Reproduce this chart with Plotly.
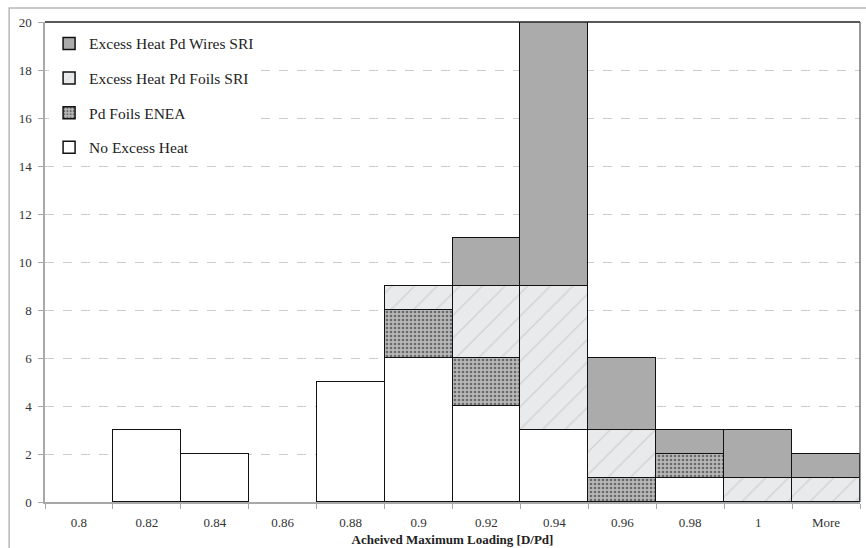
import plotly.graph_objects as go

categories = ["0.8", "0.82", "0.84", "0.86", "0.88", "0.9", "0.92", "0.94", "0.96", "0.98", "1", "More"]
no_excess_heat = [0, 3, 2, 0, 5, 6, 4, 3, 0, 1, 0, 0]
pd_foils_enea = [0, 0, 0, 0, 0, 2, 2, 0, 1, 1, 0, 0]
excess_pd_foils_sri = [0, 0, 0, 0, 0, 1, 3, 6, 2, 0, 1, 1]
excess_pd_wires_sri = [0, 0, 0, 0, 0, 0, 2, 11, 3, 1, 2, 1]
y_ticks = [0, 2, 4, 6, 8, 10, 12, 14, 16, 18, 20]

FONT = "Liberation Serif, Times New Roman, serif"


def nz(vals):
    return [v if v else None for v in vals]


fig = go.Figure()
line = dict(color="#111111", width=1.5)

fig.add_trace(go.Bar(
    x=categories, y=nz(no_excess_heat), name="No Excess Heat",
    marker=dict(color="white", line=line), legendrank=4, legendgroup="g4"))
fig.add_trace(go.Bar(
    x=categories, y=nz(pd_foils_enea), name="Pd Foils ENEA",
    marker=dict(color="#a0a0a0", line=line,
                pattern=dict(shape=".", fgcolor="#6a6a6a", bgcolor="#b8b8b8",
                             size=4, solidity=0.35, fillmode="replace")),
    legendrank=3, legendgroup="g3"))
fig.add_trace(go.Bar(
    x=categories, y=nz(excess_pd_foils_sri), name="Excess Heat Pd Foils SRI",
    marker=dict(color="#e6e8ea", line=line,
                pattern=dict(shape="/", fgcolor="#cfd1d3", bgcolor="#e8eaec",
                             size=16, solidity=0.08, fillmode="replace")),
    legendrank=2, legendgroup="g2"))
fig.add_trace(go.Bar(
    x=categories, y=nz(excess_pd_wires_sri), name="Excess Heat Pd Wires SRI",
    marker=dict(color="#ababab", line=line), legendrank=1, legendgroup="g1"))

fig.update_layout(
    width=866, height=548,
    barmode="stack", bargap=0,
    paper_bgcolor="white", plot_bgcolor="white",
    margin=dict(l=45, r=6, t=22, b=46),
    font=dict(family=FONT, color="#222222", size=13),
    showlegend=True,
    legend=dict(x=0.005, y=0.99, xanchor="left", yanchor="top",
                traceorder="grouped", tracegroupgap=11.5,
                font=dict(family=FONT, size=15.5, color="#222222"),
                bgcolor="white", itemwidth=30),
    xaxis=dict(type="category", range=[-0.5, 11.5], automargin=False,
               showline=True, linecolor="#a8a8a8", linewidth=1.5,
               mirror=False, ticks="outside", tickson="boundaries",
               ticklen=5, tickcolor="#a8a8a8", ticklabelstandoff=8,
               tickfont=dict(family=FONT, size=13, color="#333333"),
               title=dict(text="<b>Acheived Maximum Loading [D/Pd]</b>",
                          font=dict(family=FONT, size=13, color="#222222"),
                          standoff=6),
               showgrid=False),
    yaxis=dict(range=[0, 20], tickvals=y_ticks, automargin=False,
               showline=True, linecolor="#a8a8a8", linewidth=1.5,
               ticks="outside", ticklen=5, tickcolor="#a8a8a8",
               ticklabelstandoff=4,
               tickfont=dict(family=FONT, size=13, color="#333333"),
               showgrid=True, gridcolor="#cccccc", griddash="dash", gridwidth=1,
               zeroline=False),
)

# plot frame top/right
fig.add_shape(type="line", xref="paper", yref="paper", x0=0, x1=1, y0=1, y1=1,
              line=dict(color="#222222", width=1.5))
fig.add_shape(type="line", xref="paper", yref="paper", x0=1, x1=1, y0=0, y1=1,
              line=dict(color="#555555", width=1.2))
# outer chart border (left and top visible)
fig.add_shape(type="rect", xref="paper", yref="paper",
              x0=-0.044, x1=1.05, y0=-0.2, y1=1.029,
              line=dict(color="#b8b8b8", width=1.5), layer="below")

fig.write_html("out.html")
